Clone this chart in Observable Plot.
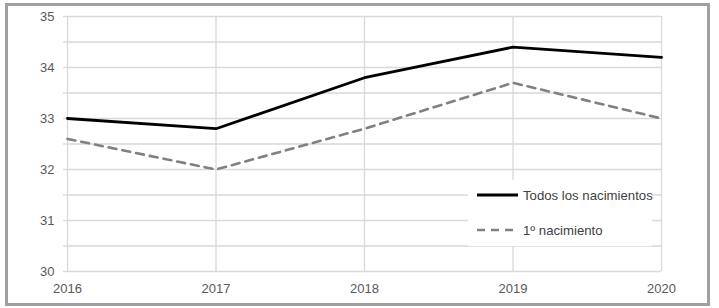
<!DOCTYPE html>
<html><head><meta charset="utf-8">
<script src="https://cdn.jsdelivr.net/npm/d3@7"></script>
<script src="https://cdn.jsdelivr.net/npm/@observablehq/plot@0.6"></script>
<style>
body{margin:0;background:#fff;}
#wrap{position:relative;width:719px;height:308px;font-family:"Liberation Sans",Arial,sans-serif;}
#frame{position:absolute;left:5px;top:3px;width:705px;height:303px;box-sizing:border-box;border:3px solid #a0a0a0;pointer-events:none;}
#legend{position:absolute;left:468px;top:180px;width:184px;height:66px;background:#fff;font-size:13.2px;color:#404040;}
.item{position:absolute;left:9px;display:flex;align-items:center;white-space:nowrap;}
.item svg{margin-right:5px;}
</style></head>
<body><div id="wrap"><div id="chart"></div><div id="frame"></div><div id="legend"></div></div>
<script>
const years = [2016, 2017, 2018, 2019, 2020];
const todos = [33.0, 32.8, 33.8, 34.4, 34.2];
const primero = [32.6, 32.0, 32.8, 33.7, 33.0];
const seriesNames = ["Todos los nacimientos", "1º nacimiento"];
const yTicks = [30, 30.5, 31, 31.5, 32, 32.5, 33, 33.5, 34, 34.5, 35];

const rows1 = years.map((y, i) => ({year: y, value: todos[i]}));
const rows2 = years.map((y, i) => ({year: y, value: primero[i]}));
const grid = "#d9d9d9";

const chart = Plot.plot({
  width: 719, height: 308,
  marginLeft: 67, marginRight: 58, marginTop: 16, marginBottom: 37,
  style: {fontFamily: '"Liberation Sans", Arial, sans-serif', fontSize: "13px", color: "#595959", background: "transparent"},
  x: {type: "linear", domain: [2016, 2020], label: null},
  y: {domain: [30, 35], label: null},
  marks: [
    Plot.gridY(yTicks, {stroke: grid, strokeOpacity: 1, strokeWidth: 1.3}),
    Plot.gridX(years, {stroke: grid, strokeOpacity: 1, strokeWidth: 1.3}),
    Plot.axisY(yTicks, {tickSize: 4, tickPadding: 9, stroke: grid, strokeWidth: 1.3, fill: "#595959",
      tickFormat: d => Number.isInteger(d) ? String(d) : ""}),
    Plot.axisX(years, {tickSize: 0, tickPadding: 12, tickFormat: d => String(d), fill: "#595959"}),
    Plot.lineY(rows2, {x: "year", y: "value", stroke: "#808080", strokeWidth: 2.6, strokeDasharray: "8,6"}),
    Plot.lineY(rows1, {x: "year", y: "value", stroke: "#000", strokeWidth: 2.8})
  ]
});
document.getElementById("chart").appendChild(chart);

const legend = document.getElementById("legend");
const styles = [{stroke: "#000", dash: null, w: 2.8}, {stroke: "#808080", dash: "8,6", w: 2.6}];
seriesNames.forEach((name, i) => {
  const d = document.createElement("div");
  d.className = "item";
  d.style.top = (i === 0 ? 6 : 41) + "px";
  const s = styles[i];
  d.innerHTML = `<svg width="41" height="18"><line x1="0" x2="41" y1="9" y2="9" stroke="${s.stroke}" stroke-width="${s.w}" ${s.dash ? `stroke-dasharray="${s.dash}"` : ""}/></svg><span>${name}</span>`;
  legend.appendChild(d);
});
</script></body></html>
